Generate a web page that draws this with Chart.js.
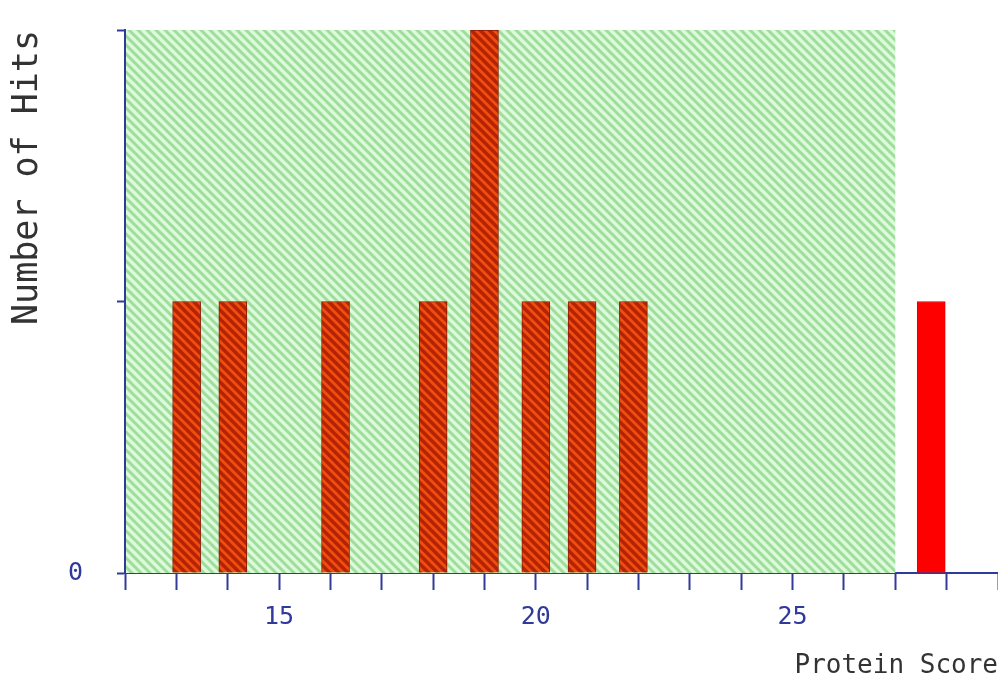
<!DOCTYPE html>
<html lang="en">
<head>
    <meta charset="UTF-8">
    <title>Protein Score</title>
    <style>
        body { margin: 0; background: #ffffff; }
    </style>
</head>
<body>

<canvas id="myChart" width="998" height="684"></canvas>

<script src="https://cdn.jsdelivr.net/npm/chart.js"></script>
<script>
    // histogram of protein scores
    const scores = [13.2, 14.1, 16.1, 18.0, 19.0, 20.0, 20.9, 21.9, 27.7];
    const hits = [1, 1, 1, 1, 2, 1, 1, 1, 1];
    // shaded region: scores below the significance threshold
    const regionScores = [12, 27];
    const regionHits = [0, 2];
    const xRange = [12, 29];
    const xLabels = [15, 20, 25];
    const yLabels = [0];

    const navy = "#2f3a9a";

    function hatch(base, stripe, size, width) {
        let c = document.createElement('canvas');
        c.width = size;
        c.height = size;
        let g = c.getContext('2d');
        g.fillStyle = base;
        g.fillRect(0, 0, size, size);
        g.strokeStyle = stripe;
        g.lineWidth = width;
        g.beginPath();
        g.moveTo(-size, 0); g.lineTo(size, 2 * size);
        g.moveTo(0, 0); g.lineTo(size, size);
        g.moveTo(0, -size); g.lineTo(2 * size, size);
        g.stroke();
        return g.createPattern(c, 'repeat');
    }

    const greenHatch = hatch("#dcf9dc", "#9ede9a", 9, 3);
    const barHatch = hatch("#f04e10", "#b42404", 9, 3.5);

    const regionPlugin = {
        id: 'region',
        beforeDatasetsDraw(chart) {
            let x = chart.scales.x;
            let y = chart.scales.y;
            let ctx = chart.ctx;
            let x0 = x.getPixelForValue(regionScores[0]);
            let x1 = x.getPixelForValue(regionScores[1]);
            let y0 = y.getPixelForValue(regionHits[0]);
            let y1 = y.getPixelForValue(regionHits[1]);
            ctx.save();
            ctx.fillStyle = greenHatch;
            ctx.fillRect(x0 + 1, y1, x1 - x0 - 1, y0 - y1);
            ctx.restore();
        }
    };

    function init() {
        let ctx = document.getElementById("myChart").getContext('2d');
        new Chart(ctx, {
            type: 'bar',
            data: {
                datasets: [
                    {
                        label: 'Hits',
                        data: scores.map((s, i) => ({x: s, y: hits[i]})),
                        backgroundColor: c => (c.raw && c.raw.x > regionScores[1]) ? "#ff0000" : barHatch,
                        borderColor: c => (c.raw && c.raw.x > regionScores[1]) ? "#e00000" : "#8a1a08",
                        borderWidth: {top: 1, left: 1, right: 1, bottom: 0},
                        barThickness: 28,
                    },
                ],
            },
            plugins: [regionPlugin],
            options: {
                responsive: false,
                devicePixelRatio: 1,
                animation: false,
                layout: {
                    padding: {top: 30, right: 0, left: 0, bottom: 0}
                },
                plugins: {
                    legend: {display: false},
                    tooltip: {enabled: false},
                },
                scales: {
                    x: {
                        type: 'linear',
                        offset: false,
                        min: xRange[0],
                        max: xRange[1],
                        afterFit: s => {
                            s.height = 111;
                            s.paddingLeft = 0;
                            s.paddingRight = 0;
                        },
                        border: {color: navy, width: 2},
                        grid: {
                            offset: false,
                            drawOnChartArea: false,
                            tickLength: 17,
                            tickColor: navy,
                            tickWidth: 2,
                        },
                        ticks: {
                            stepSize: 1,
                            autoSkip: false,
                            maxRotation: 0,
                            padding: 12,
                            color: navy,
                            font: {family: "DejaVu Sans Mono", size: 25},
                            callback: v => xLabels.includes(v) ? String(v) : '',
                        },
                        title: {
                            display: true,
                            text: 'Protein Score',
                            align: 'end',
                            color: "#333333",
                            font: {family: "DejaVu Sans Mono", size: 26, lineHeight: 1},
                            padding: {top: 0, bottom: 5},
                        },
                    },
                    y: {
                        min: 0,
                        max: 2,
                        afterFit: s => {
                            s.width = 125;
                            s.paddingTop = 0;
                            s.paddingBottom = 0;
                        },
                        border: {color: navy, width: 2},
                        grid: {
                            drawOnChartArea: false,
                            tickLength: 8,
                            tickColor: navy,
                            tickWidth: 2,
                        },
                        ticks: {
                            stepSize: 1,
                            padding: 34,
                            color: navy,
                            font: {family: "DejaVu Sans Mono", size: 25},
                            callback: v => yLabels.includes(v) ? String(v) : '',
                        },
                        title: {
                            display: true,
                            text: 'Number of Hits',
                            align: 'end',
                            color: "#333333",
                            font: {family: "DejaVu Sans Mono", size: 35, lineHeight: 1},
                            padding: {top: 10, bottom: 0},
                        },
                    },
                },
            }
        });
    }

    document.addEventListener('DOMContentLoaded', init);
</script>

</body>
</html>
